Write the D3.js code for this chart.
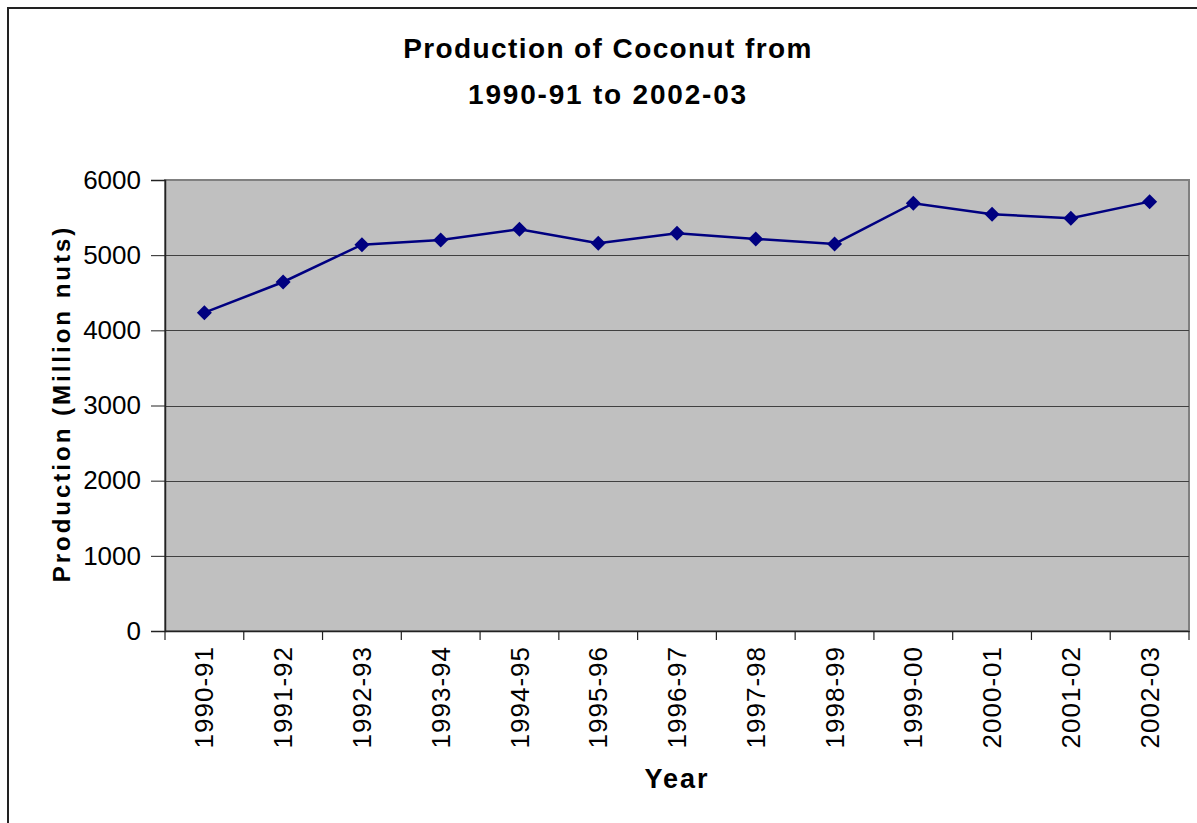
<!DOCTYPE html>
<html>
<head>
<meta charset="utf-8">
<script src="https://cdn.jsdelivr.net/npm/d3@7"></script>
<style>
  body { margin: 0; background: #fff; }
  text { font-family: Arial, "Liberation Sans", sans-serif; }
</style>
</head>
<body>
<svg id="chart" width="1197" height="823"></svg>
<script>
// data (million nuts)
const years = ["1990-91","1991-92","1992-93","1993-94","1994-95","1995-96","1996-97",
               "1997-98","1998-99","1999-00","2000-01","2001-02","2002-03"]
const production = [4235, 4643, 5140, 5202, 5345, 5159, 5292, 5216, 5149, 5691, 5545, 5491, 5712]
const yTicks = [0, 1000, 2000, 3000, 4000, 5000, 6000]

const svg = d3.select("#chart")
const plot = {left: 165, right: 1189, top: 180, bottom: 631}

// outer chart border (runs past the window on right/bottom)
svg.append("rect")
  .attr("x", 8).attr("y", 8)
  .attr("width", 1220).attr("height", 840)
  .attr("fill", "none").attr("stroke", "#222").attr("stroke-width", 2)

const x = d3.scaleBand().domain(years).range([plot.left, plot.right])
const y = d3.scaleLinear().domain([0, 6000]).range([plot.bottom, plot.top])

// grey plot area
svg.append("rect")
  .attr("x", plot.left).attr("y", plot.top)
  .attr("width", plot.right - plot.left).attr("height", plot.bottom - plot.top)
  .attr("fill", "#c0c0c0").attr("stroke", "#808080").attr("stroke-width", 2)

// gridlines
svg.append("g")
  .selectAll("line")
  .data(yTicks.filter(d => d > 0 && d < 6000))
  .join("line")
  .attr("x1", plot.left).attr("x2", plot.right)
  .attr("y1", d => Math.round(y(d)) + 0.5).attr("y2", d => Math.round(y(d)) + 0.5)
  .attr("stroke", "#404040").attr("stroke-width", 1.2)

// y axis
const yAxis = svg.append("g")
  .attr("transform", `translate(${plot.left},0)`)
  .call(d3.axisLeft(y).tickValues(yTicks).tickSize(14).tickPadding(10).tickFormat(d3.format("d")))
yAxis.select(".domain").attr("stroke", "#222").attr("stroke-width", 1.5)
yAxis.selectAll(".tick line").attr("stroke", "#222")
yAxis.selectAll(".tick text").attr("font-size", 26).attr("fill", "#000")

// x axis, ticks at band edges
const xAxis = svg.append("g")
  .attr("transform", `translate(0,${plot.bottom})`)
  .call(d3.axisBottom(x).tickSize(0).tickPadding(14))
xAxis.select(".domain").attr("stroke", "#222").attr("stroke-width", 1.5)
xAxis.selectAll(".tick text")
  .attr("font-size", 26).attr("letter-spacing", 1).attr("fill", "#000")
  .attr("transform", "rotate(-90)")
  .attr("text-anchor", "end")
  .attr("x", -15).attr("y", 0).attr("dy", "0.35em")
xAxis.append("g")
  .selectAll("line")
  .data(years.map(d => x(d)).concat([plot.right]))
  .join("line")
  .attr("x1", d => d).attr("x2", d => d)
  .attr("y1", 0).attr("y2", 9)
  .attr("stroke", "#222").attr("stroke-width", 1.2)

// series
const pts = years.map((d, i) => [x(d) + x.bandwidth() / 2, y(production[i])])
svg.append("path")
  .attr("d", d3.line()(pts))
  .attr("fill", "none").attr("stroke", "#000080").attr("stroke-width", 2.5)

svg.append("g")
  .selectAll("path")
  .data(pts)
  .join("path")
  .attr("transform", d => `translate(${d[0]},${d[1]})`)
  .attr("d", "M0,-7.5L7.5,0L0,7.5L-7.5,0Z")
  .attr("fill", "#000080")

// titles
svg.append("text")
  .attr("x", 608).attr("y", 58)
  .attr("text-anchor", "middle").attr("font-size", 28).attr("font-weight", "bold")
  .attr("letter-spacing", 1.4)
  .text("Production of Coconut from")
svg.append("text")
  .attr("x", 608).attr("y", 104)
  .attr("text-anchor", "middle").attr("font-size", 28).attr("font-weight", "bold")
  .attr("letter-spacing", 1.8)
  .text("1990-91 to 2002-03")

svg.append("text")
  .attr("x", (plot.left + plot.right) / 2).attr("y", 788)
  .attr("text-anchor", "middle").attr("font-size", 27).attr("font-weight", "bold")
  .attr("letter-spacing", 2)
  .text("Year")

svg.append("text")
  .attr("transform", `translate(70,${(plot.top + plot.bottom) / 2 - 2}) rotate(-90)`)
  .attr("text-anchor", "middle").attr("font-size", 24).attr("font-weight", "bold")
  .attr("letter-spacing", 3)
  .text("Production (Million nuts)")
</script>
</body>
</html>
